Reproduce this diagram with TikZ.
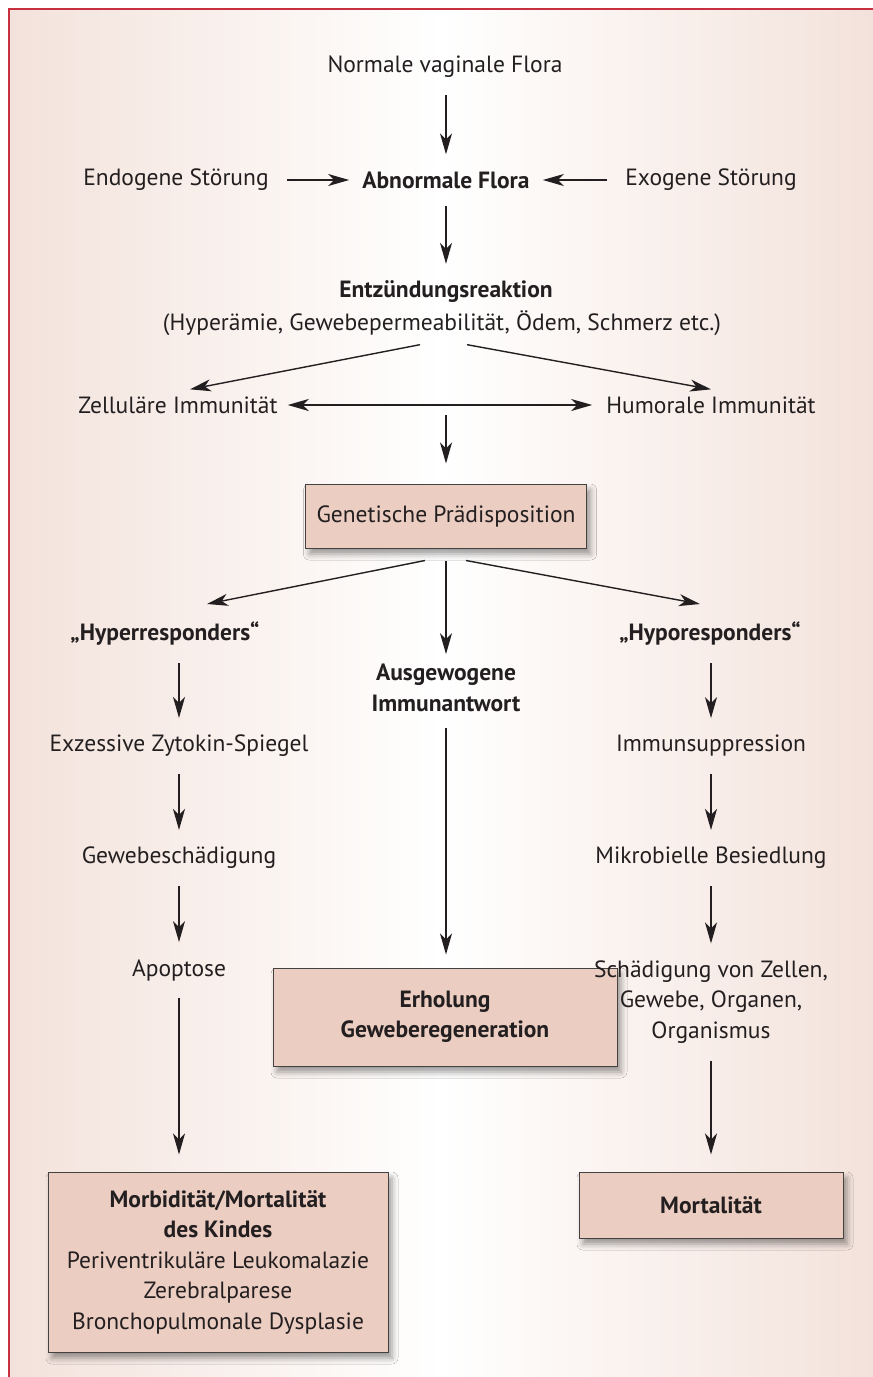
\documentclass[tikz,border=0pt]{standalone}
\usepackage{fontspec}
\setmainfont{PT Sans}
\usetikzlibrary{arrows.meta,calc,shadows.blur}

\definecolor{framered}{HTML}{C8303F}
\definecolor{boxfill}{HTML}{EBCDC1}
\definecolor{bgpink}{HTML}{F3E2DB}
\definecolor{ink}{HTML}{231F20}

\tikzset{
  txt/.style={inner sep=4pt, align=center, text=ink,
    font=\fontsize{23.5}{30.5}\selectfont},
  btxt/.style={txt, font=\fontsize{23.5}{30.5}\selectfont\bfseries},
  boxnode/.style={txt, draw=ink!85, line width=1pt, fill=boxfill,
    blur shadow={shadow xshift=4pt, shadow yshift=-6pt,
      shadow blur radius=6pt, shadow opacity=40}},
  arr/.style={-{Stealth[length=21pt,width=12pt,inset=6pt]}, line width=1.4pt,
    draw=ink, shorten <=13pt, shorten >=13pt},
  darr/.style={arr, {Stealth[length=21pt,width=12pt,inset=6pt]}-{Stealth[length=21pt,width=12pt,inset=6pt]}}
}

\begin{document}
\begin{tikzpicture}[x=1pt,y=-1pt]
  \useasboundingbox (0,0) rectangle (873,1377);
  % background and frame
  \shade[left color=bgpink, right color=bgpink, middle color=white] (9,9) rectangle (873,1377);
  \draw[framered, line width=1.5pt] (9,1377) -- (9,9) -- (873,9);

  % top part
  \node[txt] (normal) at (445,67) {Normale vaginale Flora};
  \node[btxt] (abnorm) at (446,180) {Abnormale Flora};
  \node[txt] (endo) at (176,180) {Endogene Störung};
  \node[txt] (exo) at (711,180) {Exogene Störung};
  \node[btxt] (entz) at (446,292) {Entzündungsreaktion};
  \node[txt] (perm) at (442,323) {(Hyperämie, Gewebepermeabilität, Ödem, Schmerz etc.)};
  \node[txt] (zell) at (178,405) {Zelluläre Immunität};
  \node[txt] (hum) at (711,405) {Humorale Immunität};
  \coordinate (imm) at (446,405);
  \node[boxnode, minimum width=281pt, minimum height=64pt] (gen) at (446,516) {Genetische Prädisposition};

  \draw[arr] (normal.south -| abnorm.north) -- (abnorm.north);
  \draw[arr, shorten <=14pt, shorten >=9pt] (endo) -- (abnorm);
  \draw[arr, shorten <=14pt, shorten >=9pt] (exo) -- (abnorm);
  \draw[arr] (abnorm) -- (entz);
  \draw[arr, shorten <=0pt, shorten >=0pt] ($(perm.south)+(-22,5)$) -- ($(zell.north)+(12,-3)$);
  \draw[arr, shorten <=0pt, shorten >=0pt] ($(perm.south)+(25,5)$) -- ($(hum.north)+(0,-3)$);
  \draw[darr, shorten <=6pt, shorten >=10pt] (zell) -- (hum);
  \draw[arr, shorten <=10pt, shorten >=20pt] (imm) -- (gen.north);

  % three branches
  \node[btxt] (hyper) at (165,634) {„Hyperresponders“};
  \node[btxt] (ausg) at (446,688) {Ausgewogene\\Immunantwort};
  \node[btxt] (hypo) at (710,634) {„Hyporesponders“};

  \draw[arr, shorten <=0pt, shorten >=0pt] ($(gen.south)+(-21,12)$) -- ($(hyper.north)+(42,-14)$);
  \draw[arr, shorten <=12pt, shorten >=6pt] (gen.south) -- (ausg.north);
  \draw[arr, shorten <=0pt, shorten >=0pt] ($(gen.south)+(20,12)$) -- ($(hypo.north)+(-10,-14)$);

  % left column
  \node[txt] (zyto) at (179,746) {Exzessive Zytokin-Spiegel};
  \node[txt] (schad) at (179,858) {Gewebeschädigung};
  \node[txt] (apop) at (179,970) {Apoptose};
  \node[boxnode, minimum width=340pt, minimum height=180pt] (morb) at (218,1262)
    {\textbf{Morbidität/Mortalität}\\\textbf{des Kindes}\\Periventrikuläre Leukomalazie\\Zerebralparese\\Bronchopulmonale Dysplasie};

  \draw[arr] (hyper.south -| zyto.north) -- (zyto.north);
  \draw[arr] (zyto) -- (schad);
  \draw[arr] (schad) -- (apop);
  \draw[arr, shorten >=17pt] (apop.south) -- (apop.south |- morb.north);

  % middle column
  \node[boxnode, minimum width=344pt, minimum height=98pt] (erhol) at (445,1017)
    {\textbf{Erholung}\\\textbf{Geweberegeneration}};
  \draw[arr, shorten <=12pt] (ausg.south) -- (ausg.south |- erhol.north);

  % right column
  \node[txt] (supp) at (711,746) {Immunsuppression};
  \node[txt] (mikro) at (711,858) {Mikrobielle Besiedlung};
  \node[txt] (zellsch) at (711,1002) {Schädigung von Zellen,\\Gewebe, Organen,\\Organismus};
  \node[boxnode, minimum width=264pt, minimum height=66pt] (mort) at (711,1205) {\textbf{Mortalität}};

  \draw[arr] (hypo.south -| supp.north) -- (supp.north);
  \draw[arr] (supp) -- (mikro);
  \draw[arr] (mikro) -- (zellsch);
  \draw[arr, shorten >=17pt] (zellsch) -- (mort);
\end{tikzpicture}
\end{document}
